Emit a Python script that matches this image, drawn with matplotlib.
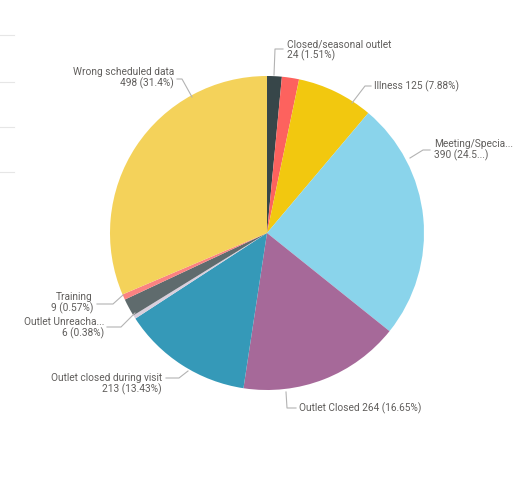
import matplotlib
matplotlib.use("Agg")
import matplotlib.pyplot as plt

# reason categories (alphabetical, as the report sorts them)
categories = ['Closed/seasonal outlet', 'Holiday', 'Illness', 'Meeting/Special',
              'Outlet Closed', 'Outlet closed during visit', 'Outlet Unreachable',
              'Other', 'Training', 'Wrong scheduled data']
counts = [24, 28, 125, 390, 264, 213, 6, 29, 9, 498]
colors = ['#374649', '#FD625E', '#F2C80F', '#8AD4EB', '#A66999',
          '#3599B8', '#D9CFDC', '#5F6B6D', '#FB8281', '#F4D25A']

# data labels as shown (truncated names like the report)
label_texts = {
    0: 'Closed/seasonal outlet\n24 (1.51%)',
    2: 'Illness 125 (7.88%)',
    3: 'Meeting/Specia...\n390 (24.5...)',
    4: 'Outlet Closed 264 (16.65%)',
    5: 'Outlet closed during visit\n213 (13.43%)',
    6: 'Outlet Unreacha...\n6 (0.38%)',
    8: 'Training\n9 (0.57%)',
    9: 'Wrong scheduled data\n498 (31.4%)',
}

W, H = 515, 492
CX, CY, R = 267, 233, 157

fig = plt.figure(figsize=(W / 100, H / 100), dpi=100)
fig.patch.set_facecolor('white')
ax = fig.add_axes([(CX - R) / W, 1 - (CY + R) / H, 2 * R / W, 2 * R / H])
ax.pie(counts, colors=colors, startangle=90, counterclock=False, radius=1,
       wedgeprops=dict(linewidth=0))
ax.set_xlim(-1, 1)
ax.set_ylim(-1, 1)
ax.axis('off')

# leader lines: pixel points (start, elbow, end), text anchor pixel, alignment
leaders = {
    0: ([(274, 75), (275, 49), (283, 49)], (287, 50), 'left'),
    2: ([(352, 103), (365, 86), (371, 86)], (374, 86), 'left'),
    3: ([(410, 158), (423, 150), (430, 150)], (434, 150), 'left'),
    4: ([(286, 392), (287, 408), (296, 408)], (299, 408), 'left'),
    5: ([(188, 371), (179, 378), (166, 378)], (162, 384), 'right'),
    6: ([(135, 313), (121, 327), (107, 327)], (104, 328), 'right'),
    8: ([(123, 295), (113, 304), (97, 304)], (93, 303), 'right'),
    9: ([(192, 97), (182, 79), (177, 79)], (174, 78), 'right'),
}

lc = '#b3b3b3'
tc = '#605E5C'
for i, (pts, (tx, ty), ha) in leaders.items():
    xs = [p[0] / W for p in pts]
    ys = [1 - p[1] / H for p in pts]
    fig.add_artist(plt.Line2D(xs, ys, color=lc, lw=0.8, transform=fig.transFigure))
    fig.text(tx / W, 1 - ty / H, label_texts[i], ha=ha, va='center',
             multialignment=ha, fontsize=7.3, color=tc, family='Roboto',
             linespacing=1.0)

# faint separators at the left edge of the report page
for y in [35, 82, 127, 172]:
    fig.add_artist(plt.Line2D([0, 14 / W], [1 - y / H, 1 - y / H],
                              color='#e6e6e6', lw=0.8, transform=fig.transFigure))

fig.savefig('out.png', dpi=100, facecolor='white')
